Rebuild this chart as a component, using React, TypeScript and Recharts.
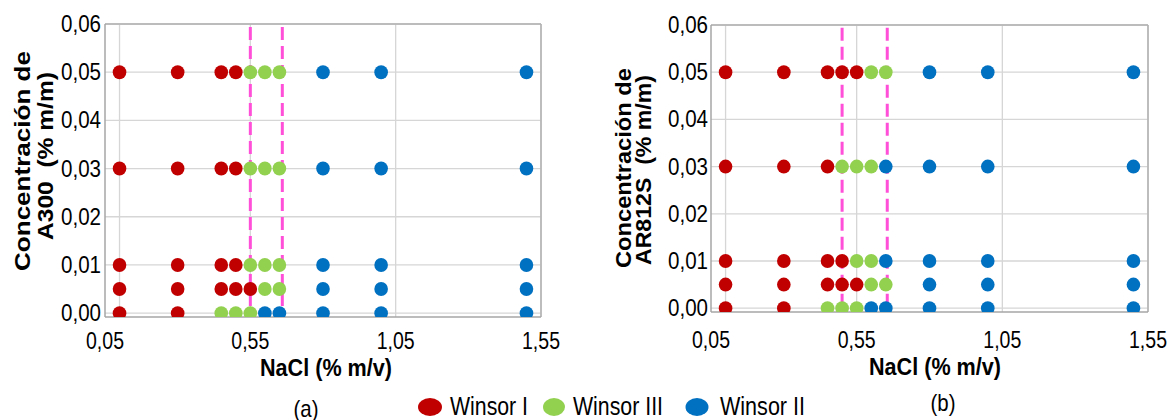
import React from "react";
import {
  ScatterChart,
  Scatter,
  XAxis,
  YAxis,
  CartesianGrid,
  ReferenceLine,
} from "recharts";

// ---------- data ----------
const xTicks = [0.05, 0.55, 1.05, 1.55];
const yTicks = [0, 0.01, 0.02, 0.03, 0.04, 0.05, 0.06];
const xGrid = [0.1, 0.55, 1.05, 1.55];

// Chart (a) A300 — [NaCl, concentration]
const a300WinsorI: [number, number][] = [
  [0.1, 0.05], [0.3, 0.05], [0.45, 0.05], [0.5, 0.05],
  [0.1, 0.03], [0.3, 0.03], [0.45, 0.03], [0.5, 0.03],
  [0.1, 0.01], [0.3, 0.01], [0.45, 0.01], [0.5, 0.01],
  [0.1, 0.005], [0.3, 0.005], [0.45, 0.005], [0.5, 0.005], [0.55, 0.005],
  [0.1, 0], [0.3, 0],
];
const a300WinsorIII: [number, number][] = [
  [0.55, 0.05], [0.6, 0.05], [0.65, 0.05],
  [0.55, 0.03], [0.6, 0.03], [0.65, 0.03],
  [0.55, 0.01], [0.6, 0.01], [0.65, 0.01],
  [0.6, 0.005], [0.65, 0.005],
  [0.45, 0], [0.5, 0], [0.55, 0],
];
const a300WinsorII: [number, number][] = [
  [0.8, 0.05], [1.0, 0.05], [1.5, 0.05],
  [0.8, 0.03], [1.0, 0.03], [1.5, 0.03],
  [0.8, 0.01], [1.0, 0.01], [1.5, 0.01],
  [0.8, 0.005], [1.0, 0.005], [1.5, 0.005],
  [0.6, 0], [0.65, 0], [0.8, 0], [1.0, 0], [1.5, 0],
];
const a300Limits = [0.55, 0.66];

// Chart (b) AR812S
const ar812WinsorI: [number, number][] = [
  [0.1, 0.05], [0.3, 0.05], [0.45, 0.05], [0.5, 0.05], [0.55, 0.05],
  [0.1, 0.03], [0.3, 0.03], [0.45, 0.03],
  [0.1, 0.01], [0.3, 0.01], [0.45, 0.01], [0.5, 0.01],
  [0.1, 0.005], [0.3, 0.005], [0.45, 0.005], [0.5, 0.005], [0.55, 0.005],
  [0.1, 0], [0.3, 0],
];
const ar812WinsorIII: [number, number][] = [
  [0.6, 0.05], [0.65, 0.05],
  [0.5, 0.03], [0.55, 0.03], [0.6, 0.03],
  [0.55, 0.01], [0.6, 0.01],
  [0.6, 0.005], [0.65, 0.005],
  [0.45, 0], [0.5, 0], [0.55, 0],
];
const ar812WinsorII: [number, number][] = [
  [0.8, 0.05], [1.0, 0.05], [1.5, 0.05],
  [0.65, 0.03], [0.8, 0.03], [1.0, 0.03], [1.5, 0.03],
  [0.65, 0.01], [0.8, 0.01], [1.0, 0.01], [1.5, 0.01],
  [0.8, 0.005], [1.0, 0.005], [1.5, 0.005],
  [0.6, 0], [0.65, 0], [0.8, 0], [1.0, 0], [1.5, 0],
];
const ar812Limits = [0.5, 0.655];

const seriesNames = ["Winsor I", "Winsor III", "Winsor II"];
const COLORS = ["#c00000", "#92d050", "#0070c0"];
const DASH = "#ff4fd8";
const FONT = "'Liberation Sans', Arial, sans-serif";

const toPts = (arr: [number, number][]) => arr.map(([x, y]) => ({ x, y }));
const fmt = (v: number) => v.toFixed(2).replace(".", ",");

const YTick = (props: any) => {
  const { x, y, payload } = props;
  return (
    <text x={x} y={y} textAnchor="end" dominantBaseline="central" fontSize={23}
      textLength={40} lengthAdjust="spacingAndGlyphs" fill="#000" fontFamily={FONT}>
      {fmt(payload.value)}
    </text>
  );
};
const XTick = (props: any) => {
  const { x, y, payload } = props;
  return (
    <text x={x} y={y} textAnchor="middle" dominantBaseline="central" fontSize={23}
      textLength={38} lengthAdjust="spacingAndGlyphs" fill="#000" fontFamily={FONT}>
      {fmt(payload.value)}
    </text>
  );
};

const dot = (color: string) => (p: any) =>
  <ellipse cx={p.cx} cy={p.cy} rx={6.8} ry={7} fill={color} />;

type PanelProps = {
  left: number; width: number; yAxisW: number; right: number; top: number; xAxisH: number;
  xTickMargin: number; yTickMargin: number;
  series: [number, number][][]; limits: number[];
};

const Panel = ({ left, width, yAxisW, right, top, xAxisH, xTickMargin, yTickMargin, series, limits }: PanelProps) => (
  <div style={{ position: "absolute", left, top: 0, width, height: 420 }}>
    <ScatterChart width={width} height={420} margin={{ top, right, bottom: 0, left: 0 }}>
      <CartesianGrid stroke="#d6d6d6" strokeWidth={1.3} horizontalValues={yTicks} verticalValues={xGrid} />
      <XAxis type="number" dataKey="x" domain={[0.05, 1.55]} ticks={xTicks} allowDataOverflow
        height={xAxisH} axisLine={{ stroke: "#a6a6a6", strokeWidth: 1.5 }} tickLine={false}
        tickSize={0} tickMargin={xTickMargin} tick={<XTick />} interval={0} />
      <YAxis type="number" dataKey="y" domain={[-0.0008, 0.06]} ticks={yTicks} allowDataOverflow
        width={yAxisW} axisLine={{ stroke: "#a6a6a6", strokeWidth: 1.5 }} tickLine={false}
        tickSize={0} tickMargin={yTickMargin} tick={<YTick />} interval={0} />
      <ReferenceLine y={0.06} stroke="#b0b0b0" strokeWidth={1.5} />
      <ReferenceLine x={1.55} stroke="#b0b0b0" strokeWidth={1.5} />
      {series.map((s, i) => (
        <Scatter key={i} name={seriesNames[i]} data={toPts(s)} fill={COLORS[i]}
          shape={dot(COLORS[i])} isAnimationActive={false} />
      ))}
      {limits.map((lx, i) => (
        <ReferenceLine key={"l" + i}
          segment={[{ x: lx, y: 0.0594 }, { x: lx, y: 0.0004 }]}
          stroke={DASH} strokeWidth={3} strokeDasharray="13 6" />
      ))}
    </ScatterChart>
  </div>
);

const legendItems = [
  { cx: 430, rx: 12, tx: 450, len: 78 },
  { cx: 554, rx: 11, tx: 573, len: 90 },
  { cx: 697, rx: 11.5, tx: 720, len: 85 },
];

export default function App() {
  return (
    <div style={{ position: "absolute", left: 0, top: 0, width: 1173, height: 420, background: "#fff", overflow: "hidden" }}>
      <Panel left={0} width={580} yAxisW={105} right={39} top={24} xAxisH={103} xTickMargin={24} yTickMargin={4}
        series={[a300WinsorI, a300WinsorIII, a300WinsorII]} limits={a300Limits} />
      <Panel left={590} width={583} yAxisW={121} right={25} top={25} xAxisH={108} xTickMargin={28} yTickMargin={3}
        series={[ar812WinsorI, ar812WinsorIII, ar812WinsorII]} limits={ar812Limits} />
      <svg width={1173} height={420} style={{ position: "absolute", left: 0, top: 0, pointerEvents: "none" }}
        fontFamily={FONT}>
        {/* y-axis titles */}
        <g transform="translate(22,161) rotate(-90)">
          <text x={0} y={0} textAnchor="middle" dominantBaseline="central" fontSize={22} fontWeight="bold"
            textLength={220} lengthAdjust="spacingAndGlyphs">Concentración de</text>
        </g>
        <g transform="translate(45,156) rotate(-90)">
          <text x={0} y={0} textAnchor="middle" dominantBaseline="central" fontSize={22} fontWeight="bold"
            textLength={168} lengthAdjust="spacingAndGlyphs" style={{ whiteSpace: "pre" }}>A300  (% m/m)</text>
        </g>
        <g transform="translate(623,168) rotate(-90)">
          <text x={0} y={0} textAnchor="middle" dominantBaseline="central" fontSize={22} fontWeight="bold"
            textLength={200} lengthAdjust="spacingAndGlyphs">Concentración de</text>
        </g>
        <g transform="translate(643,170) rotate(-90)">
          <text x={0} y={0} textAnchor="middle" dominantBaseline="central" fontSize={22} fontWeight="bold"
            textLength={190} lengthAdjust="spacingAndGlyphs" style={{ whiteSpace: "pre" }}>AR812S  (% m/m)</text>
        </g>
        {/* x-axis titles */}
        <text x={326} y={367} textAnchor="middle" dominantBaseline="central" fontSize={24} fontWeight="bold"
          textLength={132} lengthAdjust="spacingAndGlyphs">NaCl (% m/v)</text>
        <text x={935} y={366} textAnchor="middle" dominantBaseline="central" fontSize={24} fontWeight="bold"
          textLength={132} lengthAdjust="spacingAndGlyphs">NaCl (% m/v)</text>
        {/* panel captions */}
        <text x={306} y={408} textAnchor="middle" dominantBaseline="central" fontSize={24}
          textLength={25} lengthAdjust="spacingAndGlyphs">(a)</text>
        <text x={943} y={402} textAnchor="middle" dominantBaseline="central" fontSize={24}
          textLength={25} lengthAdjust="spacingAndGlyphs">(b)</text>
        {/* legend */}
        {legendItems.map((it, i) => (
          <g key={i}>
            <ellipse cx={it.cx} cy={407} rx={it.rx} ry={9} fill={COLORS[i]} />
            <text x={it.tx} y={406} dominantBaseline="central" fontSize={26}
              textLength={it.len} lengthAdjust="spacingAndGlyphs">{seriesNames[i]}</text>
          </g>
        ))}
      </svg>
    </div>
  );
}
